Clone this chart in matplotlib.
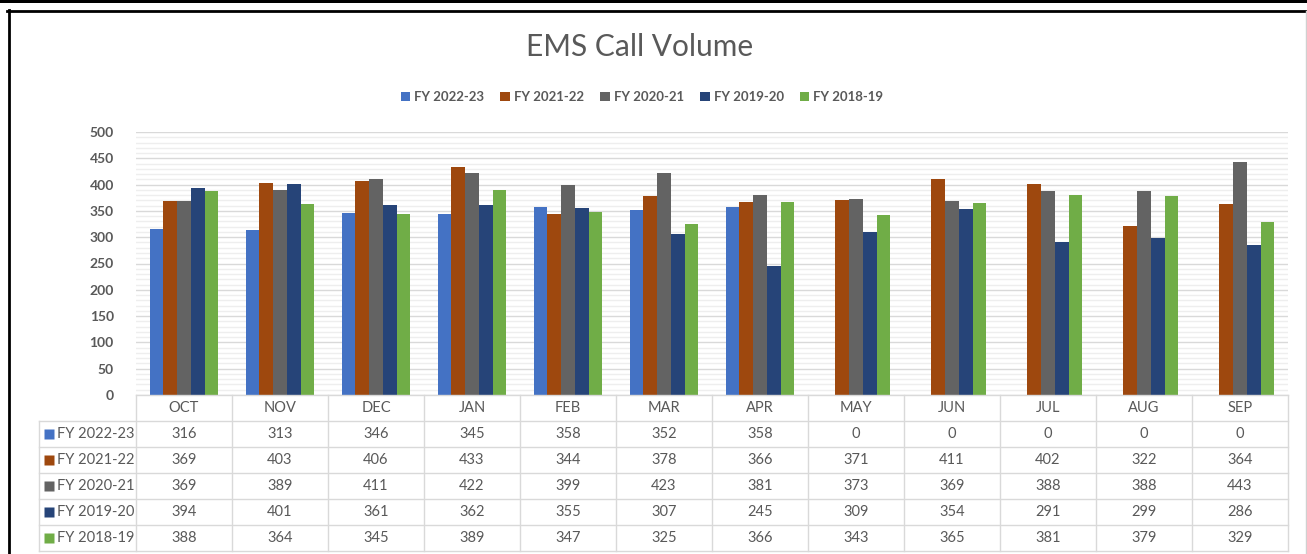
import matplotlib
matplotlib.use('Agg')
import matplotlib.pyplot as plt
from matplotlib.patches import Patch, Rectangle
from matplotlib.lines import Line2D
import numpy as np

plt.rcParams['font.family'] = ['Lato', 'DejaVu Sans']

months = ['OCT', 'NOV', 'DEC', 'JAN', 'FEB', 'MAR', 'APR', 'MAY', 'JUN', 'JUL', 'AUG', 'SEP']
series_names = ['FY 2022-23', 'FY 2021-22', 'FY 2020-21', 'FY 2019-20', 'FY 2018-19']
fy_2022_23 = [316, 313, 346, 345, 358, 352, 358, 0, 0, 0, 0, 0]
fy_2021_22 = [369, 403, 406, 433, 344, 378, 366, 371, 411, 402, 322, 364]
fy_2020_21 = [369, 389, 411, 422, 399, 423, 381, 373, 369, 388, 388, 443]
fy_2019_20 = [394, 401, 361, 362, 355, 307, 245, 309, 354, 291, 299, 286]
fy_2018_19 = [388, 364, 345, 389, 347, 325, 366, 343, 365, 381, 379, 329]
series = [fy_2022_23, fy_2021_22, fy_2020_21, fy_2019_20, fy_2018_19]
colors = ['#4472C4', '#9E480E', '#636363', '#264478', '#70AD47']
yticks = list(range(0, 501, 50))

TXT = '#595959'
GRID_MAJ = '#D9D9D9'
GRID_MIN = '#EEEEEE'
TAB_LINE = '#D9D9D9'

W, H = 1307, 554
fig = plt.figure(figsize=(W / 100, H / 100), dpi=100)

def fx(px):
    return px / W

def fy(py):
    return 1 - py / H

# ---- plot area ----
L, R, T, B = 136, 1288, 132, 395
ax = fig.add_axes([fx(L), fy(B), (R - L) / W, (B - T) / H])
x = np.arange(len(months))
n = len(series)
bw = 0.143
for k, (vals, c) in enumerate(zip(series, colors)):
    ax.bar(x + (k - (n - 1) / 2) * bw, vals, width=bw, color=c, zorder=3,
           edgecolor='none')
ax.set_xlim(-0.5, len(months) - 0.5)
ax.set_ylim(0, 500)
ax.set_yticks(yticks)
ax.set_yticks(range(0, 501, 10), minor=True)
ax.yaxis.grid(True, which='minor', color=GRID_MIN, lw=1.0, zorder=0)
ax.yaxis.grid(True, which='major', color=GRID_MAJ, lw=1.0, zorder=1)
ax.set_axisbelow(True)
ax.tick_params(axis='y', which='both', length=0, pad=16, labelsize=10, labelcolor=TXT)
for lab in ax.get_yticklabels():
    lab.set_fontweight('bold')
ax.set_xticks([])
for s in ax.spines.values():
    s.set_visible(False)

# ---- data table ----
TL, TB = 39, 551
tab = fig.add_axes([fx(TL), fy(TB), (R - TL) / W, (TB - B) / H])
px = 1.0 / 96.0
xl = -0.5 - (L - TL) * px
tab.set_xlim(xl, len(months) - 0.5)
tab.set_ylim(6, 0)
tab.axis('off')
lw = 1.0
tab.plot([-0.5, len(months) - 0.5], [0, 0], color=TAB_LINE, lw=lw, clip_on=False)
for r in range(1, 7):
    tab.plot([xl, len(months) - 0.5], [r, r], color=TAB_LINE, lw=lw, clip_on=False)
for k in range(len(months) + 1):
    tab.plot([-0.5 + k, -0.5 + k], [0, 6], color=TAB_LINE, lw=lw, clip_on=False)
tab.plot([xl, xl], [1, 6], color=TAB_LINE, lw=lw, clip_on=False)
for i, m in enumerate(months):
    tab.text(i, 0.5, m, ha='center', va='center', fontsize=10.5, color=TXT)
for r, (name, vals, c) in enumerate(zip(series_names, series, colors)):
    yy = r + 1.5
    tab.plot([xl + 10 * px], [yy], marker='s', ms=6.5, color=c, mec='none', clip_on=False)
    tab.text(xl + 18 * px, yy, name, ha='left', va='center', fontsize=10.5, color=TXT)
    for i, v in enumerate(vals):
        tab.text(i, yy, str(v), ha='center', va='center', fontsize=10.5, color=TXT)

# ---- title & legend ----
fig.text(fx(640), fy(47), 'EMS Call Volume', ha='center', va='center',
         fontsize=21.5, color=TXT, fontweight='normal')
handles = [Patch(facecolor=c, edgecolor='none') for c in colors]
fig.legend(handles, series_names, loc='center', bbox_to_anchor=(fx(642), fy(97)),
           ncol=5, frameon=False, prop={'weight': 'bold', 'size': 9.5},
           labelcolor=TXT, handlelength=0.75, handleheight=0.75,
           handletextpad=0.3, columnspacing=1.2)

# ---- outer frame ----
fig.add_artist(Rectangle((0, fy(3)), 1, 3 / H, transform=fig.transFigure,
                         color='black', lw=0))
fig.add_artist(Line2D([fx(7), 1], [fy(10.5), fy(10.5)], transform=fig.transFigure,
                      color='black', lw=2.0))
fig.add_artist(Line2D([fx(8.5), fx(8.5)], [fy(10), 0], transform=fig.transFigure,
                      color='black', lw=2.0))
fig.add_artist(Line2D([fx(1305.5), fx(1305.5)], [fy(11), 0], transform=fig.transFigure,
                      color='#D0D0D0', lw=1.0))

fig.savefig('out.png', dpi=100, facecolor='white')
